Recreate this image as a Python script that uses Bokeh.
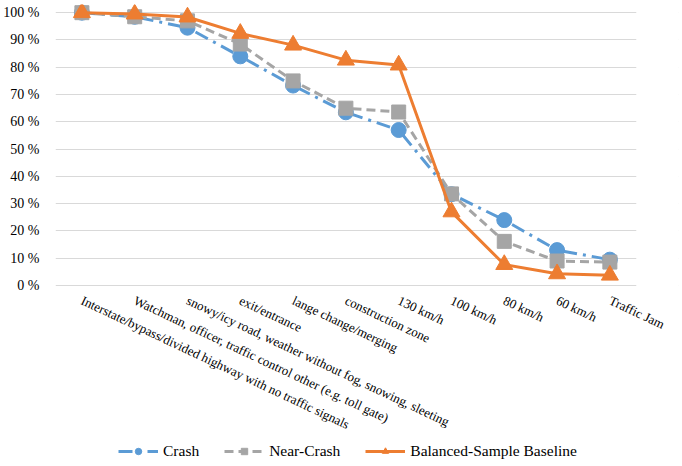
from bokeh.plotting import figure
from bokeh.models import (Range1d, FixedTicker, Legend, LegendItem, BoxAnnotation,
                          CustomJSTickFormatter)
from bokeh.embed import file_html
from bokeh.resources import INLINE

categories = [
    "Interstate/bypass/divided highway with no traffic signals",
    "Watchman, officer, traffic control other (e.g. toll gate)",
    "snowy/icy road, weather without fog, snowing, sleeting",
    "exit/entrance",
    "lange change/merging",
    "construction zone",
    "130 km/h",
    "100 km/h",
    "80 km/h",
    "60 km/h",
    "Traffic Jam",
]
crash = [100, 98.5, 94.5, 84, 73.3, 63.5, 57, 33.5, 24, 13, 9.5]
near_crash = [100, 98.5, 97, 88.5, 75, 65, 63.6, 33.6, 16.2, 9, 8.6]
baseline = [100, 99.5, 98.4, 92.4, 88.1, 82.6, 80.8, 27, 7.7, 4.3, 3.8]
y_ticks = [0, 10, 20, 30, 40, 50, 60, 70, 80, 90, 100]
y_tick_labels = [f"{t} %" for t in y_ticks]

# category index positions on the x axis
xs = list(range(len(categories)))

FONT = "Liberation Serif"
BLUE = "#5B9BD5"
GRAY = "#A5A5A5"
ORANGE = "#ED7D31"

p = figure(
    x_range=Range1d(-0.5, 11.3),
    y_range=Range1d(-66.3, 103),
    frame_width=623, frame_height=462,
    min_border_left=47, min_border_right=4, min_border_top=4, min_border_bottom=0,
    output_backend="svg", toolbar_location=None,
    background_fill_color="white", border_fill_color="white",
    outline_line_color=None,
)

r1l = p.line(xs, crash, line_color=BLUE, line_width=3, line_dash="14 6 3 6")
r1s = p.scatter(xs, crash, marker="circle", size=15, fill_color=BLUE, line_color=BLUE)
r2l = p.line(xs, near_crash, line_color=GRAY, line_width=3, line_dash="9 5")
r2s = p.scatter(xs, near_crash, marker="square", size=14, fill_color=GRAY, line_color=GRAY)
r3l = p.line(xs, baseline, line_color=ORANGE, line_width=3)
r3s = p.scatter(xs, baseline, marker="triangle", size=17, fill_color=ORANGE, line_color=ORANGE)

p.xgrid.grid_line_color = None
p.ygrid.grid_line_color = "#D9D9D9"
p.ygrid.grid_line_width = 1
p.ygrid.ticker = FixedTicker(ticks=y_ticks)

# keep gridlines inside the category area (frame is wider to fit the last label)
mask = BoxAnnotation(left=len(categories) - 0.5, right=20, bottom=-1, top=101,
                     fill_color="white", fill_alpha=1, line_color=None, level="underlay")
p.add_layout(mask)

p.yaxis.ticker = FixedTicker(ticks=y_ticks)
p.yaxis.major_label_overrides = {t: lab for t, lab in zip(y_ticks, y_tick_labels)}
p.yaxis.axis_line_color = None
p.yaxis.major_tick_line_color = None
p.yaxis.minor_tick_line_color = None
p.yaxis.major_label_standoff = 10
p.yaxis.major_label_text_font = FONT
p.yaxis.major_label_text_font_size = "14px"
p.yaxis.major_label_text_color = "#000000"

p.xaxis.fixed_location = 0
p.xaxis.ticker = FixedTicker(ticks=xs)
p.xaxis.formatter = CustomJSTickFormatter(args=dict(labels=categories),
                                          code="return labels[Math.round(tick)] || '';")
p.xaxis.axis_line_color = None
p.xaxis.major_tick_line_color = None
p.xaxis.minor_tick_line_color = None
p.xaxis.major_label_orientation = -0.44
p.xaxis.major_label_standoff = 8
p.xaxis.major_label_text_font = FONT
p.xaxis.major_label_text_font_size = "13px"
p.xaxis.major_label_text_color = "#000000"

legend = Legend(
    items=[
        LegendItem(label="Crash", renderers=[r1l, r1s]),
        LegendItem(label="Near-Crash", renderers=[r2l, r2s]),
        LegendItem(label="Balanced-Sample Baseline", renderers=[r3l, r3s]),
    ],
    orientation="horizontal",
    location=(63, 6),
    label_text_font=FONT,
    label_text_font_size="15.5px",
    label_text_color="#000000",
    border_line_color=None,
    background_fill_alpha=0,
    glyph_width=40,
    glyph_height=16,
    label_height=16,
    label_standoff=5,
    spacing=25,
    margin=0,
    padding=4,
)
p.add_layout(legend, "center")

open("out.html", "w").write(file_html(p, INLINE))
